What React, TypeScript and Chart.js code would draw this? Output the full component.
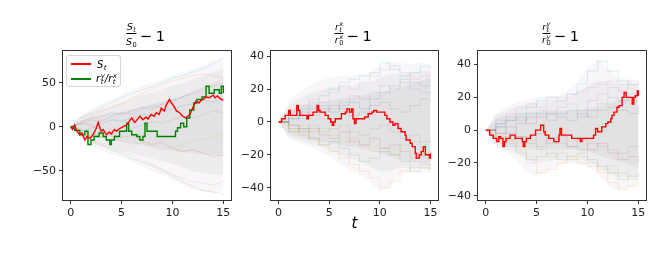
import React, { useEffect, useRef } from 'react';
import { Chart, registerables } from 'chart.js';

Chart.register(...registerables);

// ---------- data ----------
const TIME_GRID = [0, 1, 2, 3, 4, 5, 6, 7, 8, 9, 10, 11, 12, 13, 14, 15];
const X_TICKS = [0, 5, 10, 15];

// Panel 1: S_t/S_0 - 1
const S_T = [0, 0.2, 0.4, 0.6, 0.9, 1.1, 1.4, 1.6, 1.9, 2.2, 2.5, 2.7, 2.9, 3.0, 3.2, 3.5, 3.8, 4.0, 4.3, 4.5, 4.8, 5.0, 5.3, 5.5, 5.8, 6.0, 6.3, 6.6, 6.8, 7.1, 7.4, 7.6, 7.9, 8.2, 8.4, 8.7, 8.9, 9.2, 9.4, 9.7, 9.9, 10.1, 10.4, 10.7, 11.0, 11.3, 11.5, 11.7, 12.0, 12.3, 12.6, 12.8, 13.0, 13.3, 13.6, 14.0, 14.2, 14.4, 14.7, 15.0];
const S_VAL = [0, -3, 2, -5, -9, -7, -15, -11, -13, -9, -2, 5, -2, -5, -3, -9, -6, -8, -3, -5, -2, -1, 1, 2, 7, 10, 5, 9, 12, 8, 11, 9, 14, 12, 16, 14, 21, 18, 25, 31, 27, 24, 18, 16, 12, 10, 12, 14, 22, 29, 27, 30, 31, 34, 33, 36, 33, 35, 32, 30];
const RATIO_T = [0, 0.4, 0.9, 1.4, 1.7, 2.0, 2.3, 2.8, 3.2, 3.5, 3.85, 4.0, 4.3, 4.8, 5.5, 5.7, 6.0, 6.5, 6.8, 7.1, 7.3, 7.5, 8.5, 10.3, 10.5, 10.8, 11.1, 11.4, 11.7, 12.1, 12.4, 12.9, 13.3, 13.6, 14.1, 14.3, 14.6, 14.8, 15.0];
const RATIO_VAL = [0, -4, -9, -5, -20, -15, -11, -7, -11, -15, -20, -15, -11, -5, 4, -5, -9, -11, -15, -11, 4, -5, -11, -5, -1, 4, 0, 10, 19, 27, 31, 34, 46, 38, 42, 42, 38, 46, 38];
const P1_OUTER_HI = [0, 14, 20, 26, 31, 36, 42, 47, 50, 54, 58, 62, 66, 70, 74, 78];
const P1_OUTER_LO = [0, -14, -22, -27, -31, -35, -40, -45, -50, -55, -60, -66, -71, -74, -75, -72];
const P1_MID_HI = [0, 11, 16, 20, 24, 28, 32, 36, 39, 43, 47, 50, 54, 58, 62, 66];
const P1_MID_LO = [0, -11, -17, -21, -24, -27, -30, -33, -36, -39, -42, -46, -50, -52, -54, -54];
const P1_INNER_HI = [0, 7, 10, 13, 15, 17, 20, 23, 26, 29, 32, 35, 39, 43, 47, 51];
const P1_INNER_LO = [0, -7, -10, -13, -15, -17, -19, -21, -23, -25, -27, -29, -30, -31, -32, -33];
const P1_PATHS = [
  [0, 10, 16, 22, 28, 33, 38, 42, 45, 50, 55, 58, 62, 66, 72, 78],
  [0, 6, 12, 18, 22, 26, 32, 38, 42, 48, 52, 55, 58, 60, 58, 56],
  [0, -8, -14, -20, -24, -28, -32, -38, -42, -48, -54, -58, -62, -64, -66, -62],
  [0, -10, -16, -22, -26, -30, -36, -40, -44, -50, -56, -62, -68, -72, -74, -76],
  [0, -4, -2, 4, 8, 6, 10, 14, 12, 18, 20, 24, 26, 30, 28, 32],
  [0, 4, 2, -4, -8, -12, -10, -16, -20, -18, -24, -28, -26, -30, -34, -32],
  [0, 3, 8, 6, 12, 16, 14, 20, 24, 22, 28, 34, 38, 42, 46, 50],
  [0, -3, -8, -12, -10, -16, -20, -18, -22, -26, -24, -20, -16, -14, -12, -8],
  [0, 5, 10, 12, 16, 14, 18, 22, 20, 26, 30, 34, 40, 44, 48, 54],
  [0, -6, -10, -8, -4, -6, -2, 2, 6, 4, 8, 12, 10, 14, 18, 16],
];

// Panel 2: r^x_t / r^x_0 - 1
const RX_T = [0, 0.3, 0.65, 1.0, 1.15, 1.8, 1.95, 2.1, 2.8, 2.95, 3.4, 3.8, 3.95, 4.1, 4.6, 4.9, 5.15, 5.3, 5.45, 5.6, 6.2, 6.6, 6.75, 7.0, 7.2, 7.35, 7.5, 7.65, 8.5, 8.85, 9.2, 9.4, 9.7, 10.5, 10.7, 11.0, 11.3, 11.5, 11.8, 12.1, 12.5, 12.6, 13.0, 13.2, 13.5, 13.6, 13.9, 14.1, 14.3, 14.5, 14.9, 15.0];
const RX_VAL = [0, 2, 4, 7, 4, 10, 7, 4, 2, 4, 6, 10, 7, 6, 4, 2, 0, -2, 0, 2, 5, 6, 8, 6, 8, 2, -1, 2, 3, 5, 6, 7, 6, 4, 2, 0, -2, -1, -4, -6, -8, -11, -13, -15, -19, -22, -20, -18, -15, -20, -22, -19];
const P2_OUTER_HI = [0, 13, 18, 22, 25, 27, 28, 28, 29, 30, 34, 37, 36, 35, 36, 35];
const P2_OUTER_LO = [0, -10, -13, -15, -18, -21, -25, -29, -32, -36, -42, -40, -32, -31, -31, -31];
const P2_MID_HI = [0, 10, 14, 17, 19, 21, 22, 22, 23, 24, 27, 29, 29, 30, 31, 31];
const P2_MID_LO = [0, -9, -11, -13, -15, -17, -20, -22, -24, -27, -30, -30, -28, -28, -28, -29];
const P2_INNER_HI = [0, 7, 9, 11, 12, 13, 14, 15, 16, 17, 18, 19, 21, 23, 25, 27];
const P2_INNER_LO = [0, -7, -9, -11, -12, -13, -14, -15, -16, -17, -19, -21, -23, -24, -25, -26];
const P2_PATHS = [
  [0, 4, 8, 12, 16, 20, 24, 26, 28, 30, 36, 32, 28, 30, 34, 32],
  [0, -4, -8, -10, -14, -18, -22, -26, -30, -34, -40, -36, -30, -28, -26, -28],
  [0, 6, 10, 14, 12, 18, 22, 20, 24, 28, 32, 34, 30, 26, 28, 30],
  [0, -6, -4, -10, -14, -12, -16, -20, -24, -22, -18, -20, -24, -30, -28, -30],
  [0, 2, 6, 4, 8, 6, 10, 12, 8, 14, 18, 22, 26, 24, 22, 26],
  [0, -2, -6, -4, -8, -10, -6, -12, -14, -10, -16, -14, -18, -22, -20, -24],
  [0, 4, 2, 6, 10, 8, 12, 16, 14, 18, 22, 20, 24, 20, 18, 16],
  [0, -4, -2, -6, -4, -8, -12, -10, -14, -18, -16, -20, -14, -12, -16, -18],
  [0, 2, 4, 8, 6, 10, 8, 4, 6, 10, 12, 8, 6, 10, 14, 12],
  [0, -2, -4, -2, -6, -4, -2, -6, -8, -4, -2, -6, -10, -8, -12, -10],
];

// Panel 3: r^y_t / r^y_0 - 1
const RY_T = [0, 0.4, 0.75, 1.1, 1.3, 1.45, 1.7, 1.85, 2.0, 2.4, 2.9, 3.6, 3.7, 3.85, 4.0, 4.4, 4.9, 5.4, 5.7, 5.85, 6.2, 6.7, 7.2, 7.3, 7.45, 8.45, 9.3, 9.45, 10.6, 10.8, 11.0, 11.4, 11.8, 12.0, 12.3, 12.4, 12.6, 12.9, 13.1, 13.4, 13.6, 13.8, 14.4, 14.55, 14.7, 14.9, 15.0];
const RY_VAL = [0, -3, -5, -7, -4, -5, -10, -7, -5, -3, -5, -7, -10, -7, -5, -3, 0, 3, -1, -3, -5, -7, -3, 1, -3, -5, -7, -5, -3, 1, -1, 2, 4, 5, 7, 9, 11, 14, 15, 20, 23, 20, 16, 20, 21, 24, 21];
const P3_OUTER_HI = [0, 10, 14, 17, 19, 20, 21, 21, 24, 30, 38, 43, 38, 32, 31, 29];
const P3_OUTER_LO = [0, -10, -14, -18, -26, -28, -25, -22, -20, -21, -22, -26, -33, -37, -35, -33];
const P3_MID_HI = [0, 9, 12, 14, 16, 17, 17, 18, 20, 23, 27, 30, 30, 28, 28, 27];
const P3_MID_LO = [0, -9, -12, -14, -18, -20, -19, -18, -17, -18, -19, -22, -26, -29, -29, -29];
const P3_INNER_HI = [0, 7, 9, 10, 11, 11, 12, 12, 12, 12, 13, 14, 16, 18, 20, 22];
const P3_INNER_LO = [0, -7, -9, -10, -11, -12, -12, -12, -12, -12, -13, -15, -17, -19, -21, -23];
const P3_PATHS = [
  [0, 4, 6, 10, 14, 18, 20, 18, 22, 28, 36, 42, 36, 30, 28, 26],
  [0, -4, -8, -12, -20, -26, -24, -20, -18, -20, -22, -26, -32, -36, -34, -32],
  [0, 6, 10, 14, 16, 14, 18, 20, 22, 24, 26, 28, 30, 28, 30, 28],
  [0, -6, -10, -14, -18, -16, -14, -18, -16, -14, -18, -22, -26, -30, -28, -26],
  [0, 2, -2, 4, 8, 10, 6, 10, 12, 8, 12, 16, 20, 18, 22, 24],
  [0, -2, 2, -4, -6, -2, -8, -4, -10, -6, -12, -8, -14, -18, -16, -20],
  [0, 4, 8, 6, 10, 12, 10, 14, 16, 12, 18, 22, 26, 24, 28, 30],
  [0, -4, -6, -10, -8, -12, -16, -14, -18, -16, -20, -24, -22, -26, -30, -28],
  [0, 2, 6, 8, 4, 8, 10, 8, 6, 10, 8, 12, 14, 12, 10, 14],
  [0, -2, -6, -4, -8, -10, -6, -8, -10, -12, -8, -10, -12, -14, -10, -12],
];

const P1_Y_TICKS = [-50, 0, 50];
const P2_Y_TICKS = [-40, -20, 0, 20, 40];
const P3_Y_TICKS = [-40, -20, 0, 20, 40];

// ---------- styling ----------
const FAINT = [
  'rgba(23,190,207,0.18)',
  'rgba(255,127,14,0.16)',
  'rgba(227,119,194,0.16)',
  'rgba(44,160,44,0.16)',
  'rgba(31,119,180,0.15)',
  'rgba(214,39,40,0.14)',
  'rgba(148,103,189,0.15)',
  'rgba(188,189,34,0.16)',
  'rgba(140,86,75,0.14)',
  'rgba(127,127,127,0.15)',
];
const FONT = '"DejaVu Sans", sans-serif';

const pts = (xs: number[], ys: number[]) => xs.map((x, i) => ({ x, y: ys[i] }));

function band(hi: number[], lo: number[], color: string, order: number) {
  return [
    { data: pts(TIME_GRID, hi), borderWidth: 0, borderColor: 'transparent', pointRadius: 0, fill: '+1', backgroundColor: color, order },
    { data: pts(TIME_GRID, lo), borderWidth: 0, borderColor: 'transparent', pointRadius: 0, fill: false, order },
  ];
}

function buildDatasets(p: any) {
  const ds: any[] = [];
  p.main.forEach((m: any, i: number) => {
    ds.push({
      data: pts(m.t, m.v),
      borderColor: m.color,
      borderWidth: 1.4,
      pointRadius: 0,
      stepped: m.stepped ? 'before' : false,
      fill: false,
      order: i,
    });
  });
  p.paths.forEach((path: number[], i: number) => {
    ds.push({
      data: pts(TIME_GRID, path),
      borderColor: FAINT[i % FAINT.length],
      borderWidth: 1,
      pointRadius: 0,
      stepped: p.steppedCloud ? 'before' : false,
      fill: false,
      order: 5,
    });
  });
  ds.push(...band(p.outerHi, p.outerLo, 'rgba(205,195,205,0.15)', 12));
  ds.push(...band(p.midHi, p.midLo, 'rgba(180,178,182,0.14)', 11));
  ds.push(...band(p.innerHi, p.innerLo, 'rgba(155,155,155,0.14)', 10));
  return ds;
}

const framePlugin = {
  id: 'frame',
  afterDraw(chart: any) {
    const { ctx, chartArea: a } = chart;
    ctx.save();
    ctx.strokeStyle = '#333';
    ctx.lineWidth = 1;
    ctx.strokeRect(Math.round(a.left) - 0.5, Math.round(a.top) - 0.5, Math.round(a.right - a.left) + 1, Math.round(a.bottom - a.top) + 1);
    ctx.restore();
  },
};

const Y_AXIS_W = 45;
const RIGHT_PAD = 12;
const PLOT_TOP = 51;
const PLOT_BOTTOM = 200;
const H = 266;

function Panel({ p }: { p: any }) {
  const ref = useRef<HTMLCanvasElement>(null);
  const w = p.right - p.left + Y_AXIS_W + RIGHT_PAD;
  useEffect(() => {
    const chart = new Chart(ref.current as HTMLCanvasElement, {
      type: 'line',
      data: { datasets: buildDatasets(p) },
      options: {
        animation: false,
        responsive: false,
        maintainAspectRatio: false,
        devicePixelRatio: 1,
        layout: { padding: { left: 0, right: RIGHT_PAD, top: PLOT_TOP, bottom: 0 } },
        plugins: { legend: { display: false }, tooltip: { enabled: false }, title: { display: false } },
        scales: {
          x: {
            type: 'linear',
            min: -0.75,
            max: 15.75,
            afterBuildTicks: (s: any) => { s.ticks = X_TICKS.map((v) => ({ value: v })); },
            afterFit: (s: any) => { s.height = H - PLOT_BOTTOM; },
            grid: { drawOnChartArea: false, tickLength: 4, color: '#333' },
            border: { display: false },
            ticks: { font: { family: FONT, size: 11 }, color: '#222', padding: 3, maxRotation: 0 },
          },
          y: {
            type: 'linear',
            min: p.yMin,
            max: p.yMax,
            afterBuildTicks: (s: any) => { s.ticks = p.yTicks.map((v: number) => ({ value: v })); },
            afterFit: (s: any) => { s.width = Y_AXIS_W; },
            grid: { drawOnChartArea: false, tickLength: 4, color: '#333' },
            border: { display: false },
            ticks: { font: { family: FONT, size: 11 }, color: '#222', padding: 3, callback: (v: any) => (v < 0 ? '\u2212' + Math.abs(v) : String(v)) },
          },
        },
      },
      plugins: [framePlugin],
    } as any);
    return () => chart.destroy();
  }, []);
  return (
    <canvas
      ref={ref}
      width={w}
      height={H}
      style={{ position: 'absolute', left: p.left - Y_AXIS_W, top: 0, width: w, height: H }}
    />
  );
}

// ---------- math text helpers ----------
function Sym({ base, sup, sub, size }: any) {
  const s = size * 0.7;
  return (
    <span style={{ whiteSpace: 'nowrap', fontSize: size }}>
      <span style={{ fontStyle: 'italic' }}>{base}</span>
      <span style={{ display: 'inline-block', verticalAlign: `${-0.22 * size}px`, fontSize: s, lineHeight: `${0.62 * size}px`, marginLeft: 0.5 }}>
        {sup ? <span style={{ display: 'block', fontStyle: 'italic' }}>{sup}</span> : null}
        <span style={{ display: 'block' }}>{sub}</span>
      </span>
    </span>
  );
}

const I = ({ c }: any) => <span style={{ fontStyle: 'italic' }}>{c}</span>;

const FRAC_SIZE = 9.5;
const LH = 1.164;
const ASC = 0.928;

function Title({ cx, num, den, numBase, denBase }: any) {
  const numTop = numBase - ASC * FRAC_SIZE;
  const boxH = LH * FRAC_SIZE;
  const barY = 33.3;
  const g1 = barY - (numTop + boxH);
  const denTop = denBase - ASC * FRAC_SIZE;
  const g2 = denTop - (barY + 0.9);
  const big = 14.5;
  const bigTop = 41.7 - ASC * big;
  return (
    <div style={{ position: 'absolute', left: cx, top: 0, transform: 'translateX(-50%)', display: 'flex', alignItems: 'flex-start', fontFamily: FONT, color: '#000', whiteSpace: 'nowrap' }}>
      <div style={{ display: 'inline-flex', flexDirection: 'column', alignItems: 'center', paddingTop: numTop }}>
        <div style={{ height: boxH, lineHeight: `${boxH}px`, fontSize: FRAC_SIZE }}>{num}</div>
        <div style={{ height: g1 }} />
        <div style={{ alignSelf: 'stretch', height: 0, borderTop: '0.9px solid #000' }} />
        <div style={{ height: g2 }} />
        <div style={{ height: boxH, lineHeight: `${boxH}px`, fontSize: FRAC_SIZE }}>{den}</div>
      </div>
      <span style={{ fontSize: big, lineHeight: `${LH * big}px`, marginTop: bigTop, marginLeft: 3 }}>{'\u2212'}</span>
      <span style={{ fontSize: big, lineHeight: `${LH * big}px`, marginTop: bigTop, marginLeft: 4 }}>1</span>
    </div>
  );
}

const PANELS = [
  {
    left: 63, right: 231, yMin: -83, yMax: 86, yTicks: P1_Y_TICKS,
    main: [
      { t: S_T, v: S_VAL, color: '#ff0000', stepped: false },
      { t: RATIO_T, v: RATIO_VAL, color: '#008000', stepped: true },
    ],
    paths: P1_PATHS, steppedCloud: false,
    outerHi: P1_OUTER_HI, outerLo: P1_OUTER_LO, midHi: P1_MID_HI, midLo: P1_MID_LO, innerHi: P1_INNER_HI, innerLo: P1_INNER_LO,
  },
  {
    left: 271, right: 438, yMin: -47.5, yMax: 43.2, yTicks: P2_Y_TICKS,
    main: [{ t: RX_T, v: RX_VAL, color: '#ff0000', stepped: true }],
    paths: P2_PATHS, steppedCloud: true,
    outerHi: P2_OUTER_HI, outerLo: P2_OUTER_LO, midHi: P2_MID_HI, midLo: P2_MID_LO, innerHi: P2_INNER_HI, innerLo: P2_INNER_LO,
  },
  {
    left: 478, right: 646, yMin: -42.6, yMax: 48.3, yTicks: P3_Y_TICKS,
    main: [{ t: RY_T, v: RY_VAL, color: '#ff0000', stepped: true }],
    paths: P3_PATHS, steppedCloud: true,
    outerHi: P3_OUTER_HI, outerLo: P3_OUTER_LO, midHi: P3_MID_HI, midLo: P3_MID_LO, innerHi: P3_INNER_HI, innerLo: P3_INNER_LO,
  },
];

export default function App() {
  const fs = FRAC_SIZE;
  return (
    <div style={{ position: 'fixed', left: 0, top: 0, width: 664, height: 266, background: '#fff', overflow: 'hidden', fontFamily: FONT }}>
      {PANELS.map((p, i) => <Panel key={i} p={p} />)}

      <Title cx={145.5} numBase={29.5} denBase={44.3}
        num={<Sym base="S" sub={<I c="t" />} size={fs} />}
        den={<Sym base="S" sub="0" size={fs} />} />
      <Title cx={353.3} numBase={30} denBase={43}
        num={<Sym base="r" sup="x" sub={<I c="t" />} size={fs} />}
        den={<Sym base="r" sup="x" sub="0" size={fs} />} />
      <Title cx={560.5} numBase={30} denBase={43}
        num={<Sym base="r" sup="y" sub={<I c="t" />} size={fs} />}
        den={<Sym base="r" sup="y" sub="0" size={fs} />} />

      {/* legend */}
      <div style={{ position: 'absolute', left: 66, top: 55, width: 55, height: 32, border: '1px solid #d6d6d6', borderRadius: 3, background: 'rgba(255,255,255,0.85)', boxSizing: 'border-box' }}>
        <div style={{ position: 'absolute', left: 4, top: 7, width: 20, height: 2, background: '#ff0000' }} />
        <div style={{ position: 'absolute', left: 30, top: 1, lineHeight: '12px' }}>
          <Sym base="S" sub={<I c="t" />} size={10} />
        </div>
        <div style={{ position: 'absolute', left: 4, top: 22, width: 20, height: 2, background: '#008000' }} />
        <div style={{ position: 'absolute', left: 29, top: 15, lineHeight: '12px', whiteSpace: 'nowrap' }}>
          <Sym base="r" sup="y" sub={<I c="t" />} size={10} />
          <span style={{ fontStyle: 'italic', fontSize: 10 }}>/</span>
          <Sym base="r" sup="x" sub={<I c="t" />} size={10} />
        </div>
      </div>

      {/* x label */}
      <div style={{ position: 'absolute', left: 354.5, top: 214, transform: 'translateX(-50%)', fontSize: 15, fontStyle: 'italic', fontFamily: FONT, lineHeight: '18px' }}>t</div>
    </div>
  );
}
